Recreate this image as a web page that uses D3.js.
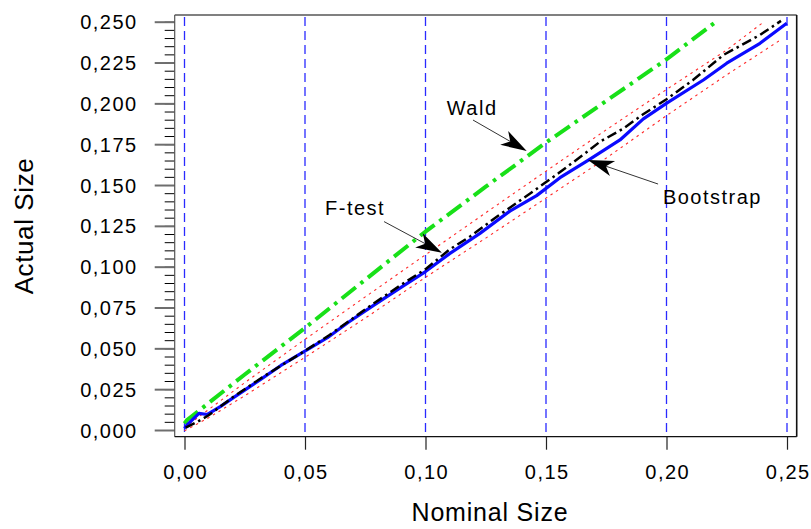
<!DOCTYPE html>
<html>
<head>
<meta charset="utf-8">
<script src="https://cdn.jsdelivr.net/npm/d3@7"></script>
<style>
  html, body { margin: 0; padding: 0; background: #fff; }
  svg { display: block; }
  text { font-family: "Liberation Sans", Arial, sans-serif; fill: #000; }
</style>
</head>
<body>
<svg id="chart" width="811" height="529"></svg>
<script>
// ---------- data ----------
const xTicks = [0, 0.05, 0.10, 0.15, 0.20, 0.25];
const yTicks = [0, 0.025, 0.05, 0.075, 0.10, 0.125, 0.15, 0.175, 0.20, 0.225, 0.25];
const yMinorTicks = d3.range(0, 0.2501, 0.005);

const waldX = [0.000, 0.001, 0.025, 0.050, 0.075, 0.100, 0.125, 0.150, 0.175, 0.200, 0.2200];
const waldY = [0.004, 0.006, 0.034, 0.0625, 0.092, 0.1215, 0.149, 0.176, 0.2015, 0.227, 0.2494];

const bootX = [0.000, 0.001, 0.006, 0.0095, 0.015, 0.020, 0.0316, 0.040, 0.0496, 0.0593, 0.068, 0.0786, 0.090, 0.100, 0.110, 0.1226, 0.135, 0.1461, 0.1558, 0.1676, 0.1807, 0.1904, 0.2001, 0.2153, 0.225, 0.2388, 0.2499];
const bootY = [0.001, 0.003, 0.0102, 0.0095, 0.0145, 0.0195, 0.031, 0.0395, 0.048, 0.0565, 0.066, 0.0765, 0.0875, 0.097, 0.108, 0.1204, 0.134, 0.1435, 0.1545, 0.1653, 0.1776, 0.1905, 0.2001, 0.2143, 0.2246, 0.2368, 0.249];

const fX = [0.0005, 0.0053, 0.010, 0.020, 0.032, 0.050, 0.060, 0.078, 0.090, 0.100, 0.110, 0.1185, 0.130, 0.145, 0.155, 0.165, 0.1724, 0.182, 0.190, 0.200, 0.211, 0.2236, 0.2388, 0.2475];
const fY = [0.0014, 0.005, 0.009, 0.020, 0.032, 0.0485, 0.058, 0.077, 0.089, 0.0985, 0.1105, 0.1185, 0.131, 0.1465, 0.157, 0.168, 0.1765, 0.1845, 0.193, 0.2025, 0.2143, 0.2296, 0.2419, 0.2505];

const upperX = [0.000, 0.010, 0.025, 0.050, 0.075, 0.100, 0.125, 0.150, 0.175, 0.200, 0.225, 0.2405];
const upperY = [0.0015, 0.0125, 0.029, 0.0555, 0.0815, 0.1073, 0.133, 0.1585, 0.1838, 0.2085, 0.2327, 0.250];
const lowerX = [0.000, 0.010, 0.025, 0.050, 0.075, 0.100, 0.125, 0.150, 0.175, 0.200, 0.225, 0.248];
const lowerY = [-0.0005, 0.0075, 0.021, 0.0445, 0.0685, 0.0935, 0.1175, 0.142, 0.1665, 0.1925, 0.2175, 0.2395];

// annotations: label, text anchor (data units), arrow start, arrow tip
const annLabels = ["Wald", "F-test", "Bootstrap"];
const annText = [[0.1088, 0.1929], [0.0583, 0.1317], [0.1985, 0.1384]];
const annFrom = [[0.1197, 0.1898], [0.0828, 0.1276], [0.1965, 0.1506]];
const annTip  = [[0.1420, 0.1709], [0.1068, 0.1086], [0.1674, 0.1653]];

// ---------- layout ----------
const frame = { left: 174.7, right: 796.7, top: 15, bottom: 436.7 };
const svg = d3.select("#chart");
const x = d3.scaleLinear().domain([0, 0.25]).range([184.5, 787]);
const y = d3.scaleLinear().domain([0, 0.25]).range([430, 21.7]);

const locale = d3.formatLocale({ decimal: ",", thousands: ".", grouping: [3], currency: ["", ""] });
const fmtY = locale.format(".3f");
const fmtX = locale.format(".2f");

// vertical dashed gridlines
svg.append("g").selectAll("line").data(xTicks).join("line")
  .attr("x1", d => x(d)).attr("x2", d => x(d))
  .attr("y1", frame.top + 2).attr("y2", frame.bottom)
  .attr("stroke", "#2a2aff").attr("stroke-width", 1.3)
  .attr("stroke-dasharray", "9,5");

// Y axis minor ticks
const yMinor = svg.append("g").attr("transform", `translate(${frame.left},0)`)
  .call(d3.axisLeft(y).tickValues(yMinorTicks).tickSize(10).tickFormat(""));
yMinor.select(".domain").remove();
yMinor.selectAll(".tick line").attr("stroke", "#000").attr("stroke-width", 1);

// Y axis major ticks
const yAx = svg.append("g").attr("transform", `translate(${frame.left},0)`)
  .call(d3.axisLeft(y).tickValues(yTicks).tickSize(20).tickPadding(17).tickFormat(fmtY));
yAx.select(".domain").remove();
yAx.selectAll(".tick line").attr("stroke", "#6e6e6e").attr("stroke-width", 2);
yAx.selectAll(".tick text")
  .attr("font-size", 20).style("letter-spacing", "1.5px")
  .attr("dy", "0.35em").attr("x", -37).attr("text-anchor", "end")
  .style("font-family", '"Liberation Sans", Arial, sans-serif').attr("fill", "#000");

// X axis
const xAx = svg.append("g").attr("transform", `translate(0,${frame.bottom})`)
  .call(d3.axisBottom(x).tickValues(xTicks).tickSize(13).tickFormat(fmtX));
xAx.select(".domain").remove();
xAx.selectAll(".tick line").attr("stroke", "#222").attr("stroke-width", 1.2);
xAx.selectAll(".tick text")
  .attr("font-size", 20).style("letter-spacing", "1.5px")
  .attr("y", 42).attr("dy", 0).attr("dx", 0.75)
  .style("font-family", '"Liberation Sans", Arial, sans-serif').attr("fill", "#000");

// frame
svg.append("line").attr("x1", frame.left).attr("x2", frame.right).attr("y1", frame.top).attr("y2", frame.top)
  .attr("stroke", "#808080").attr("stroke-width", 2);
svg.append("line").attr("x1", frame.left).attr("x2", frame.left).attr("y1", frame.top).attr("y2", frame.bottom)
  .attr("stroke", "#555").attr("stroke-width", 1.2);
svg.append("line").attr("x1", frame.left).attr("x2", frame.right).attr("y1", frame.bottom).attr("y2", frame.bottom)
  .attr("stroke", "#111").attr("stroke-width", 1.3);
svg.append("line").attr("x1", frame.right).attr("x2", frame.right).attr("y1", frame.top).attr("y2", frame.bottom)
  .attr("stroke", "#111").attr("stroke-width", 1.6);

// series
const line = d3.line().x(d => x(d[0])).y(d => y(d[1]));
const zip = (a, b) => a.map((v, i) => [v, b[i]]);

svg.append("path").datum(zip(upperX, upperY)).attr("d", line)
  .attr("fill", "none").attr("stroke", "#ff2a2a").attr("stroke-width", 1.1).attr("stroke-dasharray", "2.5,4");
svg.append("path").datum(zip(lowerX, lowerY)).attr("d", line)
  .attr("fill", "none").attr("stroke", "#ff2a2a").attr("stroke-width", 1.1).attr("stroke-dasharray", "2.5,4");

svg.append("path").datum(zip(waldX, waldY)).attr("d", line)
  .attr("fill", "none").attr("stroke", "#18e018").attr("stroke-width", 4)
  .attr("stroke-dasharray", "18,6,3.5,6");

svg.append("path").datum(zip(bootX, bootY)).attr("d", line)
  .attr("fill", "none").attr("stroke", "#0a0aff").attr("stroke-width", 3.2)
  .attr("stroke-linejoin", "round");

svg.append("path").datum(zip(fX, fY)).attr("d", line)
  .attr("fill", "none").attr("stroke", "#000").attr("stroke-width", 2.5)
  .attr("stroke-dasharray", "10,4,2.5,4");

// annotations
const ann = svg.append("g");
annLabels.forEach((lab, i) => {
  const tx = x(annText[i][0]), ty = y(annText[i][1]);
  ann.append("text").attr("x", tx).attr("y", ty).text(lab)
    .attr("font-size", 20).style("letter-spacing", "1.5px");
  const x0 = x(annFrom[i][0]), y0 = y(annFrom[i][1]);
  const x1 = x(annTip[i][0]), y1 = y(annTip[i][1]);
  const dx = x1 - x0, dy = y1 - y0, L = Math.hypot(dx, dy);
  const ux = dx / L, uy = dy / L, nx = -uy, ny = ux;
  const headLen = 26, headW = 8, notch = 19;
  ann.append("line").attr("x1", x0).attr("y1", y0)
    .attr("x2", x1 - ux * notch).attr("y2", y1 - uy * notch)
    .attr("stroke", "#333").attr("stroke-width", 1);
  const bx = x1 - ux * headLen, by = y1 - uy * headLen;
  const pts = [
    [x1, y1],
    [bx + nx * headW, by + ny * headW],
    [x1 - ux * notch, y1 - uy * notch],
    [bx - nx * headW, by - ny * headW]
  ];
  ann.append("polygon").attr("points", pts.map(p => p.join(",")).join(" "))
    .attr("fill", "#000");
});

// axis titles
svg.append("text").attr("x", 490).attr("y", 521).attr("text-anchor", "middle")
  .attr("font-size", 25).style("letter-spacing", "0.8px").text("Nominal Size");
svg.append("text").attr("transform", "translate(33,226) rotate(-90)").attr("text-anchor", "middle")
  .attr("font-size", 26).style("letter-spacing", "0.6px").text("Actual Size");
</script>
</body>
</html>
